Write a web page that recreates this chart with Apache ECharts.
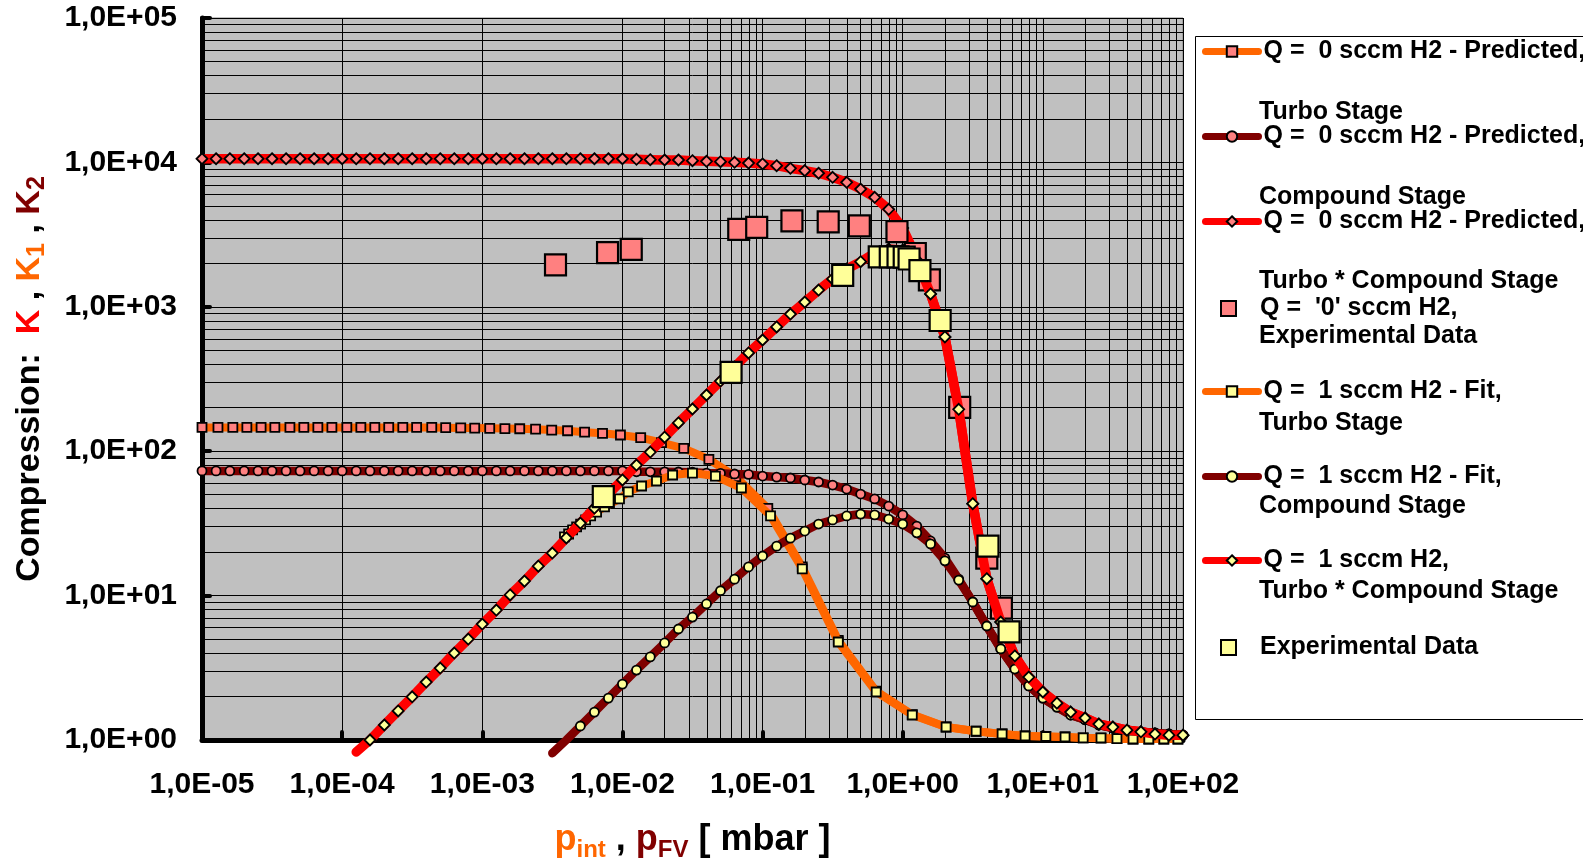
<!DOCTYPE html>
<html>
<head>
<meta charset="utf-8">
<title>Compression vs pressure</title>
<script src="https://cdn.jsdelivr.net/npm/echarts@6/dist/echarts.min.js"></script>
<style>
  html, body { margin: 0; padding: 0; background: #fff; }
  #chart { width: 1583px; height: 860px; }
</style>
</head>
<body>
<div id="chart"></div>
<script>
// pressure grid of the model curves, 0.1 decade steps [mbar]
const pGrid = [
  1.00e-5, 1.26e-5, 1.58e-5, 2.00e-5, 2.51e-5, 3.16e-5, 3.98e-5, 5.01e-5, 6.31e-5, 7.94e-5,
  1.00e-4, 1.26e-4, 1.58e-4, 2.00e-4, 2.51e-4, 3.16e-4, 3.98e-4, 5.01e-4, 6.31e-4, 7.94e-4,
  1.00e-3, 1.26e-3, 1.58e-3, 2.00e-3, 2.51e-3, 3.16e-3, 3.98e-3, 5.01e-3, 6.31e-3, 7.94e-3,
  1.00e-2, 1.26e-2, 1.58e-2, 2.00e-2, 2.51e-2, 3.16e-2, 3.98e-2, 5.01e-2, 6.31e-2, 7.94e-2,
  0.100, 0.126, 0.158, 0.200, 0.251, 0.316, 0.398, 0.501, 0.631, 0.794,
  1.00, 1.26, 1.58, 2.00, 2.51, 3.16, 3.98, 5.01, 6.31, 7.94,
  10.0, 12.6, 15.8, 20.0, 25.1, 31.6, 39.8, 50.1, 63.1, 79.4,
  100
];

// Q = 0, turbo stage (K1)
const q0TurboX = [
  1.0e-5, 1.3e-5, 1.66e-5, 2.09e-5, 2.64e-5, 3.31e-5, 4.24e-5, 5.33e-5, 6.71e-5, 8.45e-5,
  1.08e-4, 1.36e-4, 1.71e-4, 2.15e-4, 2.71e-4, 3.40e-4, 4.36e-4, 5.48e-4, 7.02e-4, 8.83e-4,
  1.13e-3, 1.45e-3, 1.85e-3, 2.40e-3, 3.13e-3, 4.06e-3, 5.37e-3, 7.21e-3, 9.68e-3, 1.35e-2,
  1.90e-2, 2.74e-2, 4.14e-2, 6.44e-2, 0.109, 0.192, 0.347, 0.647, 1.17, 2.04,
  3.34, 5.12, 7.47, 10.5, 14.4, 19.4, 26.0, 33.8, 44, 57, 73, 92
];
const q0TurboK = [
  146, 146, 146, 146, 146, 146, 146, 146, 146, 146,
  146, 146, 146, 146, 146, 146, 146, 145.5, 145, 144.5,
  144, 143.5, 143, 142, 140, 138.5, 135.5, 133, 129.5, 124,
  114.6, 104.7, 87.9, 66.6, 40.2, 15.8, 4.9, 2.18, 1.5, 1.23,
  1.15, 1.10, 1.066, 1.057, 1.049, 1.035, 1.03, 1.022, 1.016, 1.016, 1.016, 1.016
];

// Q = 0, compound stage (K2), on pGrid
const q0CompK = [
  73, 73, 73, 73, 73, 73, 73, 73, 73, 73,
  73, 73, 73, 73, 73, 73, 73, 73, 73, 73,
  73, 73, 73, 73, 73, 73, 73, 73, 73, 73,
  73, 72, 72, 72, 71.8, 71.5, 70.6, 70.3, 69.5, 69,
  67.3, 66.2, 65.2, 63.2, 61.2, 58.3, 54.7, 50.5, 46.7, 41.7,
  36.2, 30.3, 23.9, 18.2, 13.0, 9.03, 6.16, 4.27, 3.10, 2.37,
  1.95, 1.69, 1.49, 1.38, 1.27, 1.21, 1.17, 1.14, 1.12, 1.10,
  1.08
];

// Q = 0, turbo * compound (K), on pGrid
const q0TotalK = [
  10600, 10600, 10600, 10600, 10600, 10600, 10600, 10600, 10600, 10600,
  10600, 10600, 10600, 10600, 10600, 10600, 10600, 10600, 10600, 10600,
  10600, 10600, 10600, 10600, 10600, 10600, 10600, 10600, 10600, 10600,
  10600, 10500, 10440, 10390, 10390, 10270, 10180, 10110, 10020, 9900,
  9750, 9490, 9100, 8770, 8410, 7890, 7280, 6540, 5730, 4730,
  3510, 2180, 1227, 618, 195, 43.3, 13.1, 6.56, 3.82, 2.73,
  2.15, 1.80, 1.56, 1.42, 1.29, 1.23, 1.17, 1.14, 1.10, 1.08,
  1.08
];

// Q = '0', experimental
const q0ExpX = [3.33e-3, 7.83e-3, 1.156e-2, 6.76e-2, 9.08e-2, 0.162, 0.294, 0.490, 0.91, 1.23, 1.55, 2.55, 3.98, 5.06];
const q0ExpK = [1950, 2370, 2500, 3440, 3550, 3930, 3870, 3630, 3320, 2340, 1534, 201, 18.2, 8.2];

// Q = 1, turbo stage fit (K1)
const q1TurboX = [
  3.86e-3, 4.13e-3, 4.41e-3, 4.71e-3, 5.03e-3, 5.46e-3, 5.93e-3, 6.54e-3, 7.45e-3, 9.53e-3,
  1.10e-2, 1.37e-2, 1.75e-2, 2.28e-2, 3.16e-2, 4.61e-2, 7.06e-2, 0.114, 0.192, 0.347,
  0.647, 1.17, 2.04, 3.34, 5.12, 7.47, 10.5, 14.4, 19.4, 26.0, 33.8, 44, 57, 73, 92
];
const q1TurboK = [
  25.5, 26.7, 28.5, 29.9, 31.3, 33.4, 35.6, 37.9, 41.1, 46.7,
  52.2, 57.4, 62.2, 68.4, 70.6, 67.3, 55.6, 35.6, 15.3, 4.77,
  2.15, 1.49, 1.23, 1.15, 1.10, 1.066, 1.057, 1.049, 1.033, 1.033, 1.022, 1.016, 1.016, 1.016, 1.016
];

// Q = 1, compound stage fit (K2), on pGrid from 10^-2.5
const q1CompK = [
  0.81, 1.0, 1.25, 1.56, 1.95, 2.44, 3.05, 3.76, 4.70, 5.87,
  7.1, 8.75, 10.8, 13.0, 15.8, 18.8, 22.0, 25.0, 28.0, 31.3,
  33.4, 35.6, 36.7, 36.2, 33.9, 31.3, 27.2, 22.8, 17.4, 12.8,
  9.03, 6.16, 4.27, 3.10, 2.37, 1.95, 1.69, 1.49, 1.38, 1.27,
  1.21, 1.17, 1.14, 1.12, 1.10, 1.08
];

// Q = 1, turbo * compound (K), on pGrid from 10^-3.9
const q1TotalK = [
  0.826, 1.0, 1.27, 1.59, 1.99, 2.52, 3.15, 4.0, 5.0, 6.35,
  7.94, 10.1, 12.6, 16.0, 19.7, 25.1, 31.8, 40.4, 50.5, 63.2,
  80.2, 98.7, 125, 157, 196, 245, 306, 383, 479, 589,
  725, 891, 1079, 1306, 1559, 1828, 2053, 2359, 2513, 2474,
  2109, 1227, 618, 195, 43.3, 13.1, 6.56, 3.82, 2.73, 2.15,
  1.80, 1.56, 1.42, 1.29, 1.23, 1.17, 1.14, 1.10, 1.08, 1.08
];

// Q = 1, experimental
const q1ExpX = [7.3e-3, 5.96e-2, 0.373, 0.68, 0.815, 0.926, 1.025, 1.11, 1.327, 1.85, 4.06, 5.74];
const q1ExpK = [48.4, 352, 1648, 2220, 2220, 2220, 2210, 2143, 1782, 804, 22.0, 5.6];

const seriesNames = [
  'Q =  0 sccm H2 - Predicted, Turbo Stage',
  'Q =  0 sccm H2 - Predicted, Compound Stage',
  'Q =  0 sccm H2 - Predicted, Turbo * Compound Stage',
  "Q =  '0' sccm H2, Experimental Data",
  'Q =  1 sccm H2 - Fit, Turbo Stage',
  'Q =  1 sccm H2 - Fit, Compound Stage',
  'Q =  1 sccm H2, Turbo * Compound Stage',
  'Experimental Data'
];
// legend: first line next to the symbol, continuation lines below
const legendFirst = [
  'Q =  0 sccm H2 - Predicted,', 'Q =  0 sccm H2 - Predicted,', 'Q =  0 sccm H2 - Predicted,',
  "Q =  '0' sccm H2,", 'Q =  1 sccm H2 - Fit,', 'Q =  1 sccm H2 - Fit,', 'Q =  1 sccm H2,', 'Experimental Data'
];
const legendRest = [
  ['Turbo Stage', 112], ['Compound Stage', 197], ['Turbo * Compound Stage', 281], ['Experimental Data', 336],
  ['Turbo Stage', 423], ['Compound Stage', 506], ['Turbo * Compound Stage', 591]
];
const legendY = [51, 136, 221, 308, 391, 476, 560, 647];

const ORANGE = '#FF6600', DARKRED = '#800000', RED = '#FF0000';
const PINK = '#FF8080', YELLOW = '#FFFF99', PLOT_BG = '#C0C0C0';
const FONT = '"Liberation Sans", Arial, Helvetica, sans-serif';

function zip(xs, ys, hidden) {
  return ys.map((y, i) => {
    if (i < (hidden || 0)) return { value: [xs[i], y], symbol: 'none' };
    return [xs[i], y];
  });
}

function sciLabel(v) {
  const e = Math.round(Math.log10(v));
  return '1,0E' + (e < 0 ? '-' : '+') + String(Math.abs(e)).padStart(2, '0');
}

// minor grid lines 2..9 per decade
const minorX = [], minorY = [];
[-5, -4, -3, -2, -1, 0, 1].forEach(e => { for (let k = 2; k <= 9; k++) minorX.push(k * Math.pow(10, e)); });
[0, 1, 2, 3, 4].forEach(e => { for (let k = 2; k <= 9; k++) minorY.push(k * Math.pow(10, e)); });

function lineSeries(i, color, width, symbol, fill, size, data) {
  return {
    name: seriesNames[i], type: 'line', data: data, z: 10 + i, clip: false,
    symbol: symbol, symbolSize: size, showAllSymbol: true,
    lineStyle: { color: color, width: width, cap: 'round', join: 'round' },
    itemStyle: { color: fill, borderColor: '#000', borderWidth: 1.8 },
    emphasis: { disabled: true }, animation: false
  };
}
function expSeries(i, fill, xs, ys) {
  return {
    name: seriesNames[i], type: 'scatter', z: 10 + i,
    symbol: 'rect', symbolSize: 21, data: zip(xs, ys),
    itemStyle: { color: fill, borderColor: '#000', borderWidth: 2.2, opacity: 1 },
    emphasis: { disabled: true }, animation: false
  };
}

const chart = echarts.init(document.getElementById('chart'), null, { renderer: 'canvas' });

const labelStyle = { fontSize: 30, fontWeight: 'bold', color: '#000', fontFamily: FONT };
const big = (color, size, lh, va) => ({ color: color, fontSize: size, fontWeight: 'bold', fontFamily: FONT, lineHeight: lh, verticalAlign: va });

const option = {
  backgroundColor: '#fff',
  animation: false,
  grid: {
    left: 202, top: 18, width: 981, height: 722,
    show: true, backgroundColor: PLOT_BG, borderColor: '#808080', borderWidth: 1,
    containLabel: false, outerBoundsMode: 'none'
  },
  xAxis: {
    type: 'log', logBase: 10, min: 1e-5, max: 100,
    axisLine: { show: true, onZero: false, lineStyle: { color: '#000', width: 5 } },
    axisTick: { show: true, inside: true, length: 8, lineStyle: { color: '#000', width: 4, cap: 'round' } },
    axisLabel: Object.assign({ margin: 30, formatter: sciLabel, showMinLabel: true, showMaxLabel: true }, labelStyle),
    splitLine: { show: true, lineStyle: { color: '#000', width: 1 } },
    name: '{o|p}{os|int}{k| , }{d|p}{ds|FV}{k| [ mbar ]}',
    nameLocation: 'middle', nameGap: 78,
    nameTextStyle: {
      fontFamily: FONT,
      rich: {
        o: big(ORANGE, 36, 44, 'middle'),
        os: big(ORANGE, 24, 21, 'bottom'),
        d: big(DARKRED, 36, 44, 'middle'),
        ds: big(DARKRED, 24, 21, 'bottom'),
        k: big('#000', 36, 44, 'middle')
      }
    }
  },
  yAxis: {
    type: 'log', logBase: 10, min: 1, max: 100000,
    axisLine: { show: true, onZero: false, lineStyle: { color: '#000', width: 5 } },
    axisTick: { show: true, inside: true, length: 8, lineStyle: { color: '#000', width: 4, cap: 'round' } },
    axisLabel: Object.assign({ margin: 25, padding: [4, 0, 0, 0], formatter: sciLabel, showMinLabel: true, showMaxLabel: true }, labelStyle),
    splitLine: { show: true, lineStyle: { color: '#000', width: 1 } },
    name: '{k|Compression:  }{r|K}{k| , }{o|K}{os|1}{k| , }{d|K}{ds|2}',
    nameLocation: 'middle', nameRotate: 90, nameGap: 152,
    nameTextStyle: {
      fontFamily: FONT,
      rich: {
        k: big('#000', 34, 40, 'middle'),
        r: big(RED, 34, 40, 'middle'),
        o: big(ORANGE, 34, 40, 'middle'),
        os: big(ORANGE, 25, 33, 'bottom'),
        d: big(DARKRED, 34, 40, 'middle'),
        ds: big(DARKRED, 25, 33, 'bottom')
      }
    }
  },
  legend: seriesNames.map((name, i) => {
    const square = (i === 3 || i === 7);
    return {
      data: [name], orient: 'horizontal', selectedMode: false, padding: 0, z: 20,
      left: square ? 1220 : 1202, top: legendY[i] - 12,
      itemWidth: square ? 15 : 53, itemHeight: square ? 15 : 13,
      lineStyle: { width: 7, cap: 'round' },
      formatter: () => legendFirst[i],
      textStyle: { fontSize: 25, fontWeight: 'bold', color: '#000', fontFamily: FONT, padding: square ? [0, 0, 0, 19] : 0 }
    };
  }),
  graphic: [
    { type: 'rect', z: 1, silent: true, shape: { x: 1195.5, y: 36.5, width: 500, height: 683 },
      style: { fill: '#fff', stroke: '#000', lineWidth: 1 } }
  ].concat(legendRest.map(r => ({
    type: 'text', z: 21, silent: true, x: 1259, y: r[1],
    style: { text: r[0], fill: '#000', fontSize: 25, fontWeight: 'bold', fontFamily: FONT, verticalAlign: 'middle' }
  }))),
  series: [
    {
      type: 'line', z: 1, silent: true, data: [[1e-5, 1]], showSymbol: false,
      lineStyle: { opacity: 0 }, animation: false,
      markLine: {
        silent: true, symbol: ['none', 'none'], label: { show: false }, animation: false,
        lineStyle: { color: '#000', width: 1, type: 'solid' },
        emphasis: { disabled: true },
        data: minorX.map(v => ({ xAxis: v })).concat(minorY.map(v => ({ yAxis: v })))
      }
    },
    lineSeries(0, ORANGE, 8, 'rect', PINK, 9, zip(q0TurboX, q0TurboK)),
    lineSeries(1, DARKRED, 8.5, 'circle', PINK, 9, zip(pGrid, q0CompK)),
    lineSeries(2, RED, 9.5, 'diamond', PINK, 11, zip(pGrid, q0TotalK)),
    expSeries(3, PINK, q0ExpX, q0ExpK),
    lineSeries(4, ORANGE, 8, 'rect', YELLOW, 9, zip(q1TurboX, q1TurboK)),
    lineSeries(5, DARKRED, 8.5, 'circle', YELLOW, 9, zip(pGrid.slice(25), q1CompK, 2)),
    lineSeries(6, RED, 9.5, 'diamond', YELLOW, 11, zip(pGrid.slice(11), q1TotalK, 1)),
    expSeries(7, YELLOW, q1ExpX, q1ExpK)
  ]
};

chart.setOption(option);
</script>
</body>
</html>
